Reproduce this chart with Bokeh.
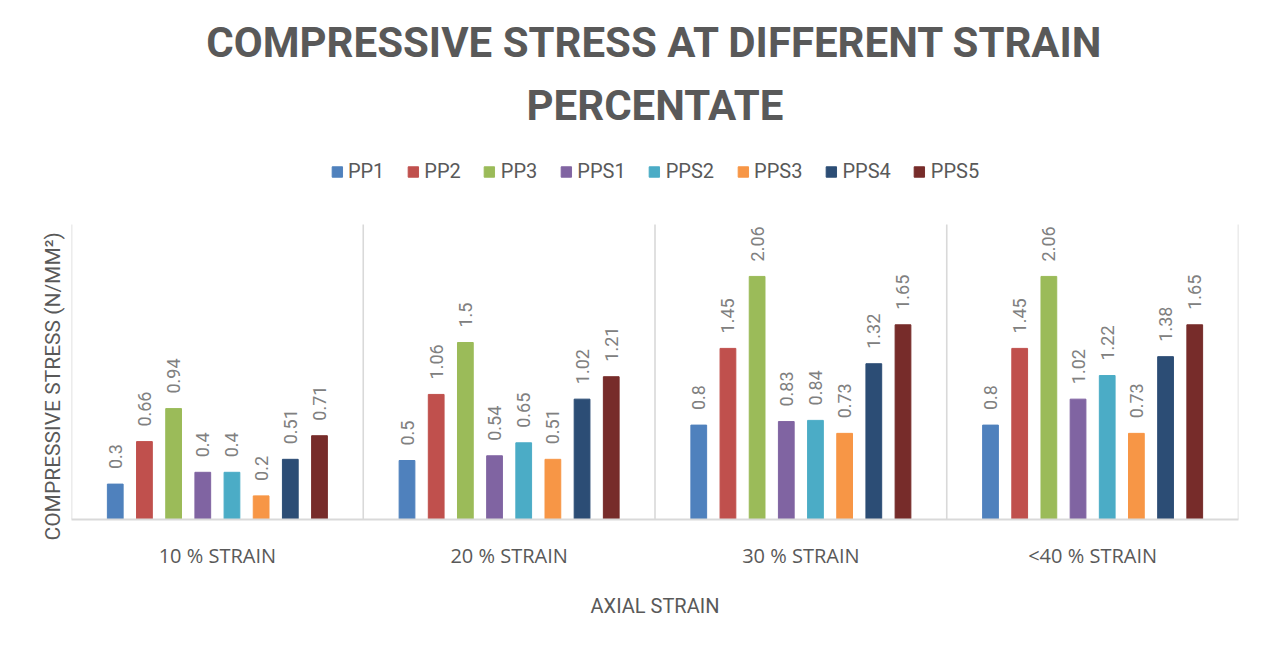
from bokeh.plotting import figure
from bokeh.models import ColumnDataSource, FactorRange, Range1d, Legend, LegendItem, Title
from bokeh.transform import dodge
from bokeh.core.properties import value
from bokeh.embed import file_html
from bokeh.resources import INLINE

categories = ["10 % STRAIN", "20 % STRAIN", "30 % STRAIN", "<40 % STRAIN"]
series = ["PP1", "PP2", "PP3", "PPS1", "PPS2", "PPS3", "PPS4", "PPS5"]
PP1 = [0.3, 0.5, 0.8, 0.8]
PP2 = [0.66, 1.06, 1.45, 1.45]
PP3 = [0.94, 1.5, 2.06, 2.06]
PPS1 = [0.4, 0.54, 0.83, 1.02]
PPS2 = [0.4, 0.65, 0.84, 1.22]
PPS3 = [0.2, 0.51, 0.73, 0.73]
PPS4 = [0.51, 1.02, 1.32, 1.38]
PPS5 = [0.71, 1.21, 1.65, 1.65]
values = [PP1, PP2, PP3, PPS1, PPS2, PPS3, PPS4, PPS5]
colors = ["#4F81BD", "#C0504D", "#9BBB59", "#8064A2", "#4BACC6", "#F79646", "#2C4D75", "#772C2A"]
title_lines = ["COMPRESSIVE STRESS AT DIFFERENT STRAIN", "PERCENTATE"]
y_title = "COMPRESSIVE STRESS (N/MM²)"
x_title = "AXIAL STRAIN"
y_max = 2.5
y_top = 3.195  # extra room above the plotting area for the legend

FONT = "Roboto"
GRAY = "#595959"

data = {"cat": categories}
for s, v in zip(series, values):
    data[s] = v
    data[s + "_lbl"] = [f"{x:g}" for x in v]
source = ColumnDataSource(data)

p = figure(width=1258, height=640, x_range=FactorRange(*categories, range_padding=0),
           y_range=Range1d(0, y_top), output_backend="svg", toolbar_location=None,
           min_border_left=71, min_border_right=20, min_border_bottom=121, min_border_top=142)
p.title.visible = False

p.outline_line_color = None
p.xgrid.grid_line_color = None
p.ygrid.grid_line_color = None

# category separators
p.segment(x0=dodge("cat", -0.5, range=p.x_range), x1=dodge("cat", -0.5, range=p.x_range),
          y0=0, y1=y_max, source=source, line_color="#d9d9d9", line_width=1.6)
p.segment(x0=dodge("cat", 0.5, range=p.x_range), x1=dodge("cat", 0.5, range=p.x_range),
          y0=0, y1=y_max, source=ColumnDataSource({"cat": categories[-1:]}),
          line_color="#d9d9d9", line_width=1.6)

items = []
step = 0.1
for k, (s, c) in enumerate(zip(series, colors)):
    off = (k - 3.5) * step
    r = p.vbar(x=dodge("cat", off, range=p.x_range), top=s, width=0.054, source=source,
               fill_color=c, line_color=c)
    p.text(x=dodge("cat", off, range=p.x_range), y=s, text=s + "_lbl", source=source,
           angle=1.5708, text_align="left", text_baseline="middle", x_offset=0, y_offset=-15,
           text_font=value(FONT), text_font_size="18px", text_color="#808080")
    items.append(LegendItem(label=s, renderers=[r]))

legend = Legend(items=items, orientation="horizontal", location="top_center",
                label_text_font=FONT, label_text_font_size="20px", label_text_color=GRAY,
                glyph_width=13, glyph_height=13, label_standoff=5, spacing=22,
                border_line_color=None, background_fill_alpha=0, padding=0, margin=17)
p.add_layout(legend, "center")

for i, line in enumerate(reversed(title_lines)):
    p.add_layout(Title(text=line, align="center", text_font=FONT, text_font_size="42px",
                       text_font_style="bold", text_color=GRAY,
                       standoff=(25 if i == 0 else 0)), "above")

p.yaxis.visible = False
p.add_layout(Title(text=y_title, align="left", offset=-21, standoff=14, text_font=FONT,
                   text_font_size="21px", text_font_style="normal", text_color=GRAY), "left")

p.xaxis.axis_label = x_title
p.xaxis.axis_label_text_font = FONT
p.xaxis.axis_label_text_font_size = "20px"
p.xaxis.axis_label_text_font_style = "normal"
p.xaxis.axis_label_text_color = GRAY
p.xaxis.axis_label_standoff = 22
p.xaxis.major_label_text_font = "Open Sans"
p.xaxis.major_label_text_font_size = "20px"
p.xaxis.major_label_text_color = GRAY
p.xaxis.major_label_standoff = 16
p.xaxis.major_tick_line_color = None
p.xaxis.axis_line_color = "#d9d9d9"
p.xaxis.axis_line_width = 2

open("out.html", "w").write(file_html(p, INLINE))
